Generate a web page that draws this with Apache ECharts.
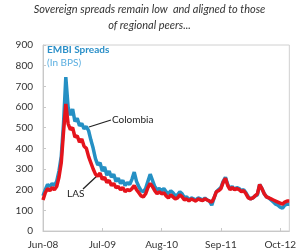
<!DOCTYPE html>
<html><head><meta charset="utf-8">
<script src="https://cdn.jsdelivr.net/npm/echarts@6/dist/echarts.min.js"></script>
<style>html,body{margin:0;padding:0;background:#fff}#c{width:299px;height:252px}</style>
</head><body><div id="c"></div>
<script>
// half-month slots starting June 2008
const tickLabels = ['Jun-08', 'Jul-09', 'Aug-10', 'Sep-11', 'Oct-12'];
const colombia = [170,200,225,215,230,220,240,290,360,520,745,600,560,590,530,545,510,520,495,505,485,440,400,350,320,330,290,310,270,290,260,275,240,255,230,245,220,235,225,250,285,240,215,195,190,205,240,275,245,215,200,205,195,205,190,180,195,185,170,175,190,180,160,165,150,160,155,150,160,155,150,160,150,145,125,160,190,200,210,240,260,225,205,215,200,210,205,195,200,185,165,155,160,170,175,225,205,180,165,160,150,140,130,125,115,110,125,130,130];
const las = [150,185,205,195,210,200,215,260,330,480,615,520,490,500,455,460,430,445,410,400,360,330,300,275,265,280,250,260,235,245,220,230,210,215,200,210,190,200,195,205,220,200,185,170,165,180,210,230,215,195,180,190,180,185,170,160,175,165,155,160,175,165,150,155,145,155,150,145,155,150,148,155,150,145,140,160,190,195,205,235,255,220,200,210,200,205,200,190,195,180,160,155,160,170,180,225,205,180,165,160,155,150,145,140,135,130,140,145,145];
const yTicks = [0,100,200,300,400,500,600,700,800,900];

const categories = colombia.map((_, i) => 'slot' + i);
const chart = echarts.init(document.getElementById('c'), null, {renderer: 'canvas'});
const FONT = 'Lato';
chart.setOption({
  animation: false,
  grid: {left: 43, right: 7, top: 45, bottom: 21, show: true, borderColor: '#d0d0d0', borderWidth: 1, backgroundColor: 'transparent'},
  xAxis: {
    type: 'category', data: categories, boundaryGap: false,
    axisLine: {lineStyle: {color: '#c8c8c8'}},
    axisTick: {inside: true, interval: 25, length: 3, lineStyle: {color: '#c8c8c8'}},
    axisLabel: {interval: 25, margin: 9, color: '#333', fontSize: 10, fontFamily: FONT,
      formatter: (v, i) => tickLabels[Math.round(i / 26)] || ''},
    splitLine: {show: false}
  },
  yAxis: {
    type: 'value', min: yTicks[0], max: yTicks[yTicks.length - 1], interval: 100,
    axisLine: {show: true, lineStyle: {color: '#c8c8c8'}},
    axisTick: {show: true, inside: true, length: 3, lineStyle: {color: '#c8c8c8'}},
    axisLabel: {margin: 10, color: '#333', fontSize: 10, fontFamily: FONT},
    splitLine: {show: false}
  },
  series: [
    {name: 'Colombia', type: 'line', data: colombia, symbol: 'none', lineStyle: {color: '#2590c4', width: 3.5}, z: 2},
    {name: 'LAS', type: 'line', data: las, symbol: 'none', lineStyle: {color: '#e5141c', width: 3.5}, z: 3}
  ],
  graphic: [
    {type: 'text', left: 'center', top: 4, style: {text: 'Sovereign spreads remain low  and aligned to those', font: 'italic 11px ' + FONT, fill: '#333'}},
    {type: 'text', left: 'center', top: 20, style: {text: 'of regional peers...', font: 'italic 11px ' + FONT, fill: '#333'}},
    {type: 'text', left: 47, top: 45, style: {text: 'EMBI Spreads', font: 'bold 10px ' + FONT, fill: '#2a8fc8'}},
    {type: 'text', left: 47, top: 58, style: {text: '(In BPS)', font: '10px ' + FONT, fill: '#5aaee0'}},
    {type: 'text', left: 112, top: 115, style: {text: 'Colombia', font: '10px ' + FONT, fill: '#222'}},
    {type: 'line', shape: {x1: 89, y1: 127, x2: 111, y2: 120}, style: {stroke: '#222', lineWidth: 1.3}},
    {type: 'text', left: 67, top: 189, style: {text: 'LAS', font: '10px ' + FONT, fill: '#222'}},
    {type: 'line', shape: {x1: 83, y1: 189, x2: 98, y2: 175}, style: {stroke: '#222', lineWidth: 1.3}}
  ]
});
</script></body></html>
